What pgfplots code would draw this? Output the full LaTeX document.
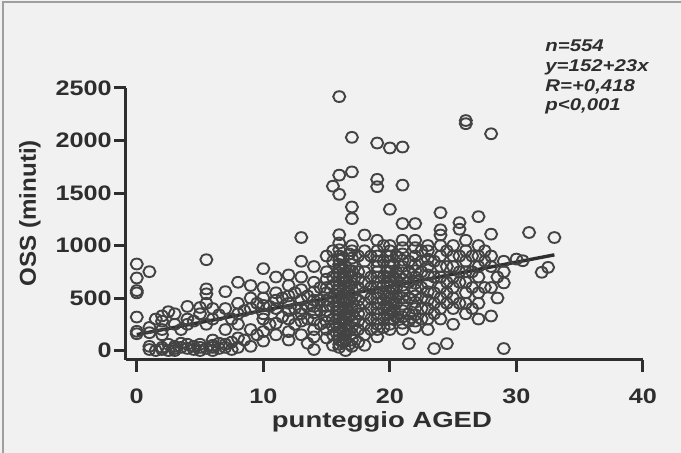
\documentclass[border=0pt]{standalone}
\usepackage{fontspec}
\setmainfont{Liberation Sans}
\newfontfamily\sfa[FakeStretch=1.2]{Liberation Sans}
\newfontfamily\sfb[FakeStretch=1.25]{Liberation Sans}
\newfontfamily\sfc[FakeStretch=1.05]{Liberation Sans}
\usepackage{pgfplots}
\pgfplotsset{compat=1.18}
\definecolor{ink}{HTML}{2E2E2E}
\definecolor{dots}{HTML}{434343}
\definecolor{paper}{HTML}{F1F1F1}

\begin{document}
\begin{tikzpicture}
\fill[paper] (-63pt,-46.5pt) rectangle (277.5pt,180pt);
\useasboundingbox (-63pt,-46.5pt) rectangle (277.5pt,180pt);
\draw[gray!75, line width=0.6pt] (-61.5pt,-46.5pt) -- (-61.5pt,179pt) -- (277.5pt,179pt);
\begin{axis}[
  at={(0,0)}, anchor=south west,
  scale only axis,
  width=258.5pt, height=136pt,
  xmin=-0.85, xmax=40, ymin=-90, ymax=2500,
  axis lines=left,
  axis line style={-, line width=1.5pt, ink},
  xtick={0,10,20,30,40}, xticklabels={0,10,20,30,40},
  ytick={0,500,1000,1500,2000,2500},
  yticklabels={0,500,1000,1500,2000,2500},
  tick align=outside,
  major tick length=6pt,
  tick style={line width=1.5pt, ink},
  tick label style={font=\fontsize{10.5}{12}\selectfont\sfa\bfseries, text=ink},
  yticklabel style={inner sep=1pt},
  xticklabel style={inner sep=0pt, yshift=-8pt},
  every axis x label/.style={at={(rel axis cs:0.495,-0.25)}, anchor=base,
    font=\fontsize{11}{13}\selectfont\sfb\bfseries, text=ink},
  every axis y label/.style={at={(rel axis cs:-0.186,0.54)}, rotate=90, anchor=center,
    font=\fontsize{11.5}{13}\selectfont\sfc\bfseries, text=ink},
  xlabel={punteggio AGED},
  ylabel={OSS (minuti)},
]
\addplot[only marks, mark=o, mark size=2.7pt,
  mark options={dots, line width=0.95pt, xscale=1.12}] coordinates {
(0,824) (0,691) (0,571) (0,549) (0,319) (0,183) (0,160)
(1,751) (1,40) (1,10) (1,220) (1,170)
(1.5,0) (1.5,300)
(2,330) (2,200) (2,30) (2,10) (2,280) (2,150)
(2.5,370) (2.5,60) (2.5,0)
(3,350) (3,20) (3,40) (3,250) (3,0)
(3.5,30) (3.5,70) (3.5,200)
(4,420) (4,60) (4,20) (4,300) (4,250)
(4.5,10) (4.5,40) (4.5,280)
(5,410) (5,30) (5,0) (5,60) (5,350)
(5.5,865) (5.5,587) (5.5,540) (5.5,20) (5.5,450) (5.5,250)
(6,50) (6,100) (6,30) (6,400) (6,300) (6,0)
(6.5,70) (6.5,20) (6.5,340)
(7,561) (7,60) (7,30) (7,400) (7,200)
(7.5,80) (7.5,10) (7.5,300)
(8,650) (8,120) (8,30) (8,450) (8,350) (8,250)
(8.5,100) (8.5,380)
(9,619) (9,500) (9,400) (9,40) (9,200)
(9.5,150) (9.5,450)
(10,780) (10,500) (10,430) (10,350) (10,300) (10,180) (10,90) (10,600)
(10.5,250) (10.5,420)
(11,550) (11,480) (11,400) (11,260) (11,150) (11,700)
(11.5,320) (11.5,500)
(12,620) (12,520) (12,450) (12,380) (12,300) (12,180) (12,100) (12,720)
(12.5,250) (12.5,550) (12.5,400)
(13,1076) (13,850) (13,700) (13,580) (13,480) (13,400) (13,350) (13,280) (13,150)
(13.5,300) (13.5,520) (13.5,70) (13.5,420)
(14,800) (14,650) (14,560) (14,480) (14,420) (14,360) (14,290) (14,200) (14,10) (14,130)
(14.5,600) (14.5,380) (14.5,250) (14.5,480)
(15,900) (15,750) (15,680) (15,600) (15,550) (15,480) (15,420) (15,380) (15,330) (15,270) (15,200) (15,120)
(15.5,1565) (15.5,950) (15.5,700) (15.5,500) (15.5,300) (15.5,50) (15.5,150)
(15.5,850) (15.5,620) (15.5,420) (15.5,230)
(16,2418) (16,1670) (16,1487) (16,1103) (16,1024) (16,960) (16,900) (16,860) (16,820) (16,780)
(16,740) (16,700) (16,660) (16,620) (16,580) (16,540) (16,500) (16,460) (16,420) (16,380)
(16,340) (16,300) (16,260) (16,220) (16,180) (16,140) (16,100) (16,60) (16,30)
(16.3,880) (16.3,780) (16.3,680) (16.3,580) (16.3,480) (16.3,380) (16.3,280) (16.3,180) (16.3,80)
(16.5,800) (16.5,700) (16.5,600) (16.5,500) (16.5,400) (16.5,300) (16.5,200) (16.5,100) (16.5,0)
(16.5,650) (16.5,450) (16.5,350) (16.5,250) (16.5,550) (16.5,150)
(16.8,920) (16.8,760) (16.8,620) (16.8,480) (16.8,330) (16.8,190) (16.8,60)
(17,2030) (17,1701) (17,1367) (17,1256) (17,1000) (17,950) (17,880) (17,820) (17,760) (17,700)
(17,640) (17,580) (17,520) (17,460) (17,400) (17,340) (17,280) (17,220) (17,160) (17,100) (17,40)
(17.5,900) (17.5,750) (17.5,600) (17.5,480) (17.5,350) (17.5,200) (17.5,80) (17.5,680) (17.5,420) (17.5,280)
(18,1100) (18,950) (18,850) (18,750) (18,650) (18,550) (18,450) (18,350) (18,250) (18,150) (18,50)
(18.5,900) (18.5,700) (18.5,500) (18.5,300) (18.5,600) (18.5,400) (18.5,200)
(19,1976) (19,1630) (19,1560) (19,1050) (19,950) (19,900) (19,850) (19,800) (19,750) (19,700)
(19,650) (19,600) (19,550) (19,500) (19,450) (19,400) (19,350) (19,300) (19,250) (19,200) (19,130)
(19.5,1000) (19.5,850) (19.5,700) (19.5,550) (19.5,400) (19.5,300) (19.5,620) (19.5,480) (19.5,220)
(19.8,900) (19.8,760) (19.8,640) (19.8,520) (19.8,420) (19.8,340)
(20,1929) (20,1345) (20,1000) (20,950) (20,900) (20,850) (20,800) (20,750) (20,700) (20,650)
(20,600) (20,550) (20,500) (20,450) (20,400) (20,350) (20,300) (20,250) (20,200)
(20.3,820) (20.3,700) (20.3,580) (20.3,460) (20.3,380) (20.3,300)
(20.5,900) (20.5,750) (20.5,600) (20.5,450) (20.5,320) (20.5,520) (20.5,680)
(21,1938) (21,1575) (21,1209) (21,1050) (21,980) (21,920) (21,860) (21,800) (21,740) (21,680)
(21,620) (21,560) (21,500) (21,440) (21,380) (21,320) (21,260) (21,200)
(21.5,66) (21.5,850) (21.5,650) (21.5,500) (21.5,350) (21.5,750) (21.5,280)
(22,1209) (22,1050) (22,980) (22,900) (22,820) (22,760) (22,700) (22,640) (22,580) (22,520)
(22,460) (22,400) (22,340) (22,280) (22,220)
(22.5,950) (22.5,750) (22.5,600) (22.5,400) (22.5,300) (22.5,850) (22.5,500)
(23,1000) (23,950) (23,870) (23,800) (23,720) (23,640) (23,560) (23,480) (23,400) (23,300) (23,200)
(23.5,19) (23.5,850) (23.5,550) (23.5,350) (23.5,700) (23.5,450)
(24,1313) (24,1150) (24,1100) (24,1000) (24,900) (24,800) (24,700) (24,600) (24,500) (24,400) (24,300)
(24.5,66) (24.5,950) (24.5,650) (24.5,450) (24.5,800) (24.5,550)
(25,1000) (25,900) (25,800) (25,700) (25,600) (25,500) (25,400) (25,250)
(25.5,1218) (25.5,1155) (25.5,900) (25.5,650) (25.5,450) (25.5,750)
(26,2190) (26,2160) (26,1050) (26,950) (26,850) (26,750) (26,650) (26,550) (26,450) (26,350)
(26.5,900) (26.5,600) (26.5,400) (26.5,750)
(27,1275) (27,1000) (27,900) (27,800) (27,700) (27,550) (27,450) (27,300)
(27.5,850) (27.5,600) (27.5,950)
(28,2064) (28,1108) (28,900) (28,800) (28,600) (28,329)
(28.5,700) (28.5,500)
(29,644) (29,19) (29,850) (29,750)
(30,871) (30.5,855) (31,1124) (32,745) (32.5,792) (33,1076)
};
\addplot[ink, line width=1.7pt, no marks] coordinates {(0,152) (33,911)};
\end{axis}
\begin{scope}[every node/.style={anchor=base west, inner sep=0pt, text=ink,
    font=\fontsize{8.5}{10}\selectfont\sfa\bfseries\itshape}]
\node at (209.5pt,154pt) {n=554};
\node at (209.5pt,144.2pt) {y=152+23x};
\node at (209.5pt,134.4pt) {R=+0,418};
\node at (209.5pt,124.6pt) {p<0,001};
\end{scope}
\end{tikzpicture}
\end{document}
